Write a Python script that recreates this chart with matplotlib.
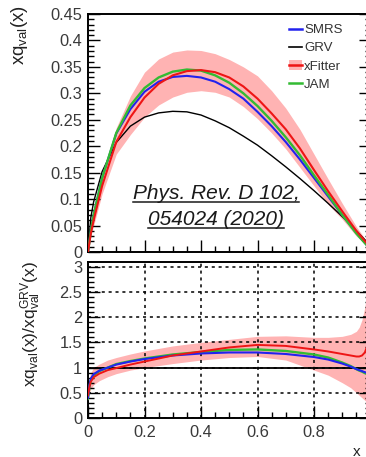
import numpy as np
import matplotlib
matplotlib.use("Agg")
import matplotlib.pyplot as plt
from matplotlib.ticker import MultipleLocator, FuncFormatter
from matplotlib.lines import Line2D
from matplotlib.patches import Patch

plt.rcParams['font.family'] = ['Liberation Sans', 'DejaVu Sans']
plt.rcParams['mathtext.fontset'] = 'custom'
plt.rcParams['mathtext.rm'] = 'Liberation Sans'
plt.rcParams['mathtext.it'] = 'Liberation Sans:italic'

# x grid of the upper panel
x = [0, 0.01, 0.02, 0.05, 0.1, 0.15, 0.2, 0.25, 0.3, 0.35, 0.4, 0.45, 0.5,
     0.55, 0.6, 0.65, 0.7, 0.75, 0.8, 0.85, 0.9, 0.95, 1.0]

smrs = [0, 0.04, 0.07, 0.14, 0.224, 0.27, 0.303, 0.322, 0.331, 0.333, 0.33, 0.322,
        0.308, 0.29, 0.265, 0.238, 0.208, 0.175, 0.14, 0.105, 0.07, 0.036, 0.005]
grv = [0, 0.065, 0.095, 0.152, 0.207, 0.238, 0.255, 0.263, 0.266, 0.265, 0.259,
       0.248, 0.235, 0.219, 0.202, 0.182, 0.161, 0.139, 0.116, 0.092, 0.067, 0.04, 0.012]
xfitter = [0, 0.035, 0.06, 0.125, 0.208, 0.255, 0.292, 0.318, 0.334, 0.342, 0.344,
           0.34, 0.33, 0.313, 0.29, 0.262, 0.232, 0.196, 0.155, 0.115, 0.077, 0.04, 0.008]
jam = [0, 0.04, 0.07, 0.14, 0.225, 0.277, 0.31, 0.33, 0.341, 0.345, 0.343, 0.334,
       0.32, 0.3, 0.276, 0.248, 0.217, 0.183, 0.145, 0.108, 0.07, 0.035, 0.005]
xfitter_hi = [0, 0.04, 0.07, 0.14, 0.235, 0.295, 0.34, 0.365, 0.378, 0.382, 0.381,
              0.375, 0.364, 0.35, 0.333, 0.305, 0.272, 0.232, 0.185, 0.138, 0.092, 0.048, 0.01]
xfitter_lo = [0, 0.03, 0.05, 0.11, 0.185, 0.222, 0.255, 0.278, 0.293, 0.302, 0.305,
              0.302, 0.293, 0.275, 0.252, 0.225, 0.195, 0.16, 0.125, 0.09, 0.062, 0.03, 0.005]

# ratio panel (to GRV)
xr = [0, 0.005, 0.01, 0.02, 0.04, 0.07, 0.1, 0.15, 0.2, 0.3, 0.4, 0.5, 0.6, 0.7,
      0.8, 0.85, 0.9, 0.93, 0.95, 0.96, 0.97, 0.98, 0.99, 1.0]
r_smrs = [0.4, 0.65, 0.78, 0.87, 0.94, 1.0, 1.06, 1.12, 1.17, 1.24, 1.28, 1.30, 1.30,
          1.27, 1.21, 1.16, 1.08, 1.02, 0.97, 0.95, 0.93, 0.91, 0.89, 0.87]
r_jam = [0.38, 0.62, 0.75, 0.85, 0.93, 1.0, 1.07, 1.13, 1.18, 1.26, 1.31, 1.35, 1.36,
         1.33, 1.26, 1.2, 1.1, 1.03, 0.97, 0.94, 0.92, 0.89, 0.87, 0.85]
r_xfitter = [0.45, 0.62, 0.72, 0.81, 0.88, 0.95, 0.99, 1.06, 1.12, 1.24, 1.32, 1.40, 1.45,
             1.43, 1.36, 1.32, 1.27, 1.24, 1.22, 1.22, 1.24, 1.3, 1.45, 1.6]
r_hi = [0.5, 0.8, 0.9, 1.0, 1.07, 1.15, 1.2, 1.27, 1.33, 1.43, 1.5, 1.56, 1.62, 1.63,
        1.6, 1.6, 1.62, 1.66, 1.72, 1.8, 1.95, 2.2, 2.6, 3.0]
r_lo = [0.4, 0.5, 0.58, 0.66, 0.74, 0.82, 0.88, 0.95, 1.0, 1.08, 1.15, 1.2, 1.22, 1.15,
        0.95, 0.85, 0.7, 0.6, 0.5, 0.45, 0.4, 0.35, 0.3, 0.25]

labels = ['SMRS', 'GRV', 'xFitter', 'JAM']
c_blue, c_red, c_green, c_band = '#2222ee', '#ee1515', '#33bb33', '#ffb3b3'
tick_col = '#3a3a3a'

W, H = 366, 457
fig = plt.figure(figsize=(W / 100, H / 100), dpi=100)
ax1 = fig.add_axes([88 / W, 1 - 252 / H, 282.5 / W, 238 / H])
ax2 = fig.add_axes([88 / W, 1 - 418 / H, 282.5 / W, 156 / H])

fmt = FuncFormatter(lambda v, p: '%g' % round(v, 3))
xfmt = FuncFormatter(lambda v, p: '' if v > 0.99 else '%g' % round(v, 3))


def style_axis(ax):
    for s in ax.spines.values():
        s.set_linewidth(1.4)
    ax.tick_params(which='both', direction='in', right=True, colors='k',
                   labelcolor=tick_col, labelsize=11.8, width=1.0, pad=4.3)
    ax.tick_params(which='major', length=8.5)
    ax.tick_params(which='minor', length=4.3)
    ax.xaxis.set_major_locator(MultipleLocator(0.2))
    ax.xaxis.set_minor_locator(MultipleLocator(0.05))
    ax.set_xlim(0, 1)


# upper panel
ax1.fill_between(x, xfitter_lo, xfitter_hi, color=c_band, lw=0, zorder=1)
ax1.plot(x, grv, color='k', lw=1.0, zorder=3)
ax1.plot(x, smrs, color=c_blue, lw=1.5, zorder=4)
ax1.plot(x, jam, color=c_green, lw=1.7, zorder=4)
ax1.plot(x, xfitter, color=c_red, lw=1.5, zorder=5)
style_axis(ax1)
ax1.set_ylim(0, 0.45)
ax1.yaxis.set_major_locator(MultipleLocator(0.05))
ax1.yaxis.set_minor_locator(MultipleLocator(0.01))
ax1.yaxis.set_major_formatter(fmt)
ax1.tick_params(labelbottom=False)
ax1.set_ylabel(r'$\mathregular{xq_{val}(x)}$', fontsize=13.5, color='#222222')
ax1.yaxis.set_label_coords(-0.205, 0.91)

handles = [Line2D([], [], color=c_blue, lw=1.8),
           Line2D([], [], color='k', lw=1.2),
           (Patch(facecolor=c_band, lw=0), Line2D([], [], color=c_red, lw=1.8)),
           Line2D([], [], color=c_green, lw=1.8)]
ax1.legend(handles, labels, loc='upper left',
           bbox_to_anchor=(289 / W, 1 - 24 / H), bbox_transform=fig.transFigure,
           frameon=False, fontsize=9.5, handlelength=1.0, handletextpad=0.15,
           labelspacing=0.45, borderpad=0, borderaxespad=0, labelcolor='#333333')

# reference note, underlined
t1 = fig.text(216 / W, 1 - 199 / H, 'Phys. Rev. D 102,', fontsize=15, style='italic',
              ha='center', va='baseline', color='#1a1a1a')
t2 = fig.text(216 / W, 1 - 225 / H, '054024 (2020)', fontsize=15, style='italic',
              ha='center', va='baseline', color='#1a1a1a')

# lower panel
ax2.fill_between(xr, r_lo, r_hi, color=c_band, lw=0, zorder=1)
ax2.grid(True, which='major', color='k', linestyle=(0, (2, 2.5)), lw=1.1, zorder=2)
ax2.axhline(1, color='k', lw=1.3, zorder=3)
ax2.plot(xr, r_jam, color=c_green, lw=1.7, zorder=4)
ax2.plot(xr, r_smrs, color=c_blue, lw=1.5, zorder=4)
ax2.plot(xr, r_xfitter, color=c_red, lw=1.4, zorder=5)
style_axis(ax2)
ax2.set_ylim(0, 3.095)
ax2.yaxis.set_major_locator(MultipleLocator(0.5))
ax2.yaxis.set_minor_locator(MultipleLocator(0.1))
ax2.yaxis.set_major_formatter(fmt)
ax2.xaxis.set_major_formatter(xfmt)
ax2.tick_params(axis='x', pad=5)
ax2.set_ylabel(r'$\mathregular{xq_{val}(x)/xq_{val}^{GRV}(x)}$', fontsize=12.5,
               color='#222222')
ax2.yaxis.set_label_coords(-0.16, 0.6)
ax2.set_xlabel('x', fontsize=11, color='#222222')
ax2.xaxis.set_label_coords(0.952, -0.17)

fig.canvas.draw()
r = fig.canvas.get_renderer()
for t in (t1, t2):
    bb = t.get_window_extent(r).transformed(fig.transFigure.inverted())
    _, yb = t.get_position()
    yl = yb - 3 / H
    fig.add_artist(Line2D([bb.x0, bb.x1], [yl, yl], color='#1a1a1a', lw=1.1,
                          transform=fig.transFigure))

fig.savefig('out.png', dpi=100)
